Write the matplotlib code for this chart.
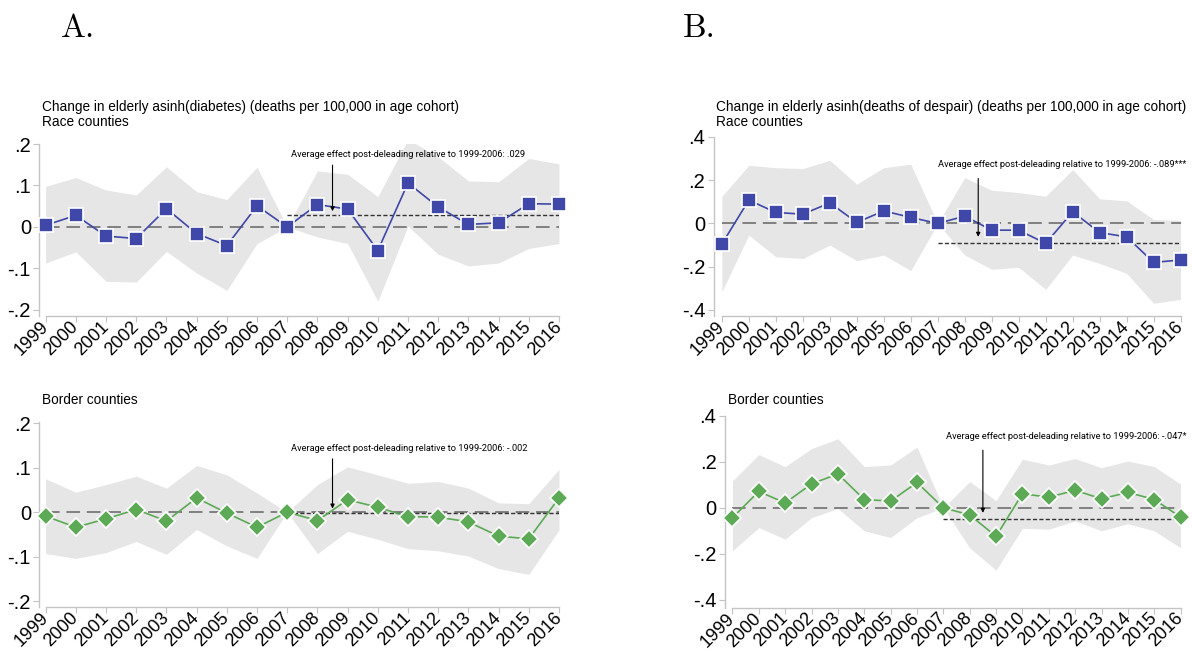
import matplotlib
matplotlib.use("Agg")
import matplotlib.pyplot as plt

years = list(range(1999, 2017))

# Panel A: diabetes
diab_race = [0.004, 0.028, -0.022, -0.028, 0.044, -0.016, -0.045, 0.051, 0.0,
             0.054, 0.043, -0.057, 0.106, 0.048, 0.006, 0.010, 0.056, 0.055]
diab_race_hi = [0.098, 0.119, 0.089, 0.077, 0.145, 0.085, 0.066, 0.144, 0.0,
                0.135, 0.127, 0.073, 0.211, 0.169, 0.111, 0.109, 0.165, 0.152]
diab_race_lo = [-0.087, -0.060, -0.131, -0.133, -0.059, -0.111, -0.153, -0.040, 0.0,
                -0.024, -0.040, -0.179, 0.002, -0.066, -0.094, -0.087, -0.052, -0.040]

diab_border = [-0.009, -0.034, -0.015, 0.006, -0.020, 0.032, -0.002, -0.034, 0.0,
               -0.019, 0.028, 0.011, -0.010, -0.011, -0.022, -0.054, -0.060, 0.032]
diab_border_hi = [0.075, 0.045, 0.062, 0.081, 0.054, 0.105, 0.084, 0.043, 0.0,
                  0.062, 0.102, 0.084, 0.065, 0.069, 0.054, 0.021, 0.019, 0.096]
diab_border_lo = [-0.093, -0.104, -0.091, -0.066, -0.095, -0.039, -0.076, -0.104, 0.0,
                  -0.093, -0.043, -0.061, -0.082, -0.087, -0.099, -0.127, -0.140, -0.040]

# Panel B: deaths of despair
desp_race = [-0.095, 0.108, 0.051, 0.043, 0.095, 0.005, 0.058, 0.028, 0.0,
             0.034, -0.031, -0.031, -0.092, 0.054, -0.042, -0.062, -0.180, -0.169]
desp_race_hi = [0.126, 0.269, 0.258, 0.254, 0.292, 0.182, 0.258, 0.274, 0.0,
                0.212, 0.154, 0.143, 0.126, 0.249, 0.114, 0.105, 0.018, 0.015]
desp_race_lo = [-0.315, -0.054, -0.154, -0.162, -0.100, -0.172, -0.146, -0.218, 0.0,
                -0.146, -0.212, -0.203, -0.305, -0.146, -0.185, -0.231, -0.369, -0.351]

desp_border = [-0.043, 0.071, 0.021, 0.104, 0.147, 0.036, 0.029, 0.110, 0.0,
               -0.031, -0.124, 0.061, 0.046, 0.076, 0.039, 0.067, 0.036, -0.040]
desp_border_hi = [0.117, 0.231, 0.179, 0.257, 0.300, 0.179, 0.186, 0.264, 0.0,
                  0.114, 0.031, 0.211, 0.186, 0.214, 0.174, 0.203, 0.179, 0.103]
desp_border_lo = [-0.186, -0.086, -0.136, -0.043, -0.003, -0.100, -0.129, -0.043, 0.0,
                  -0.174, -0.271, -0.089, -0.093, -0.057, -0.100, -0.069, -0.100, -0.174]

# Average post-period effects and their labels
avg_values = [0.029, -0.002, -0.089, -0.047]
avg_labels = [".029", "-.002", "-.089***", "-.047*"]

ticks_a = [-0.2, -0.1, 0.0, 0.1, 0.2]
ticklabels_a = ["-.2", "-.1", "0", ".1", ".2"]
ticks_b = [-0.4, -0.2, 0.0, 0.2, 0.4]
ticklabels_b = ["-.4", "-.2", "0", ".2", ".4"]

subtitle_a = "Change in elderly asinh(diabetes) (deaths per 100,000 in age cohort)"
subtitle_b = "Change in elderly asinh(deaths of despair) (deaths per 100,000 in age cohort)"

BLUE = "#3f47a8"
GREEN = "#5caa55"
BAND = "#e6e6e6"
SPINE = "#c4c4c4"
SANS = ["Liberation Sans", "DejaVu Sans"]
NARROW = ["Liberation Sans Narrow", "Roboto", "DejaVu Sans"]

fig = plt.figure(figsize=(11.93, 6.52), dpi=100)
W, H = 1193.0, 652.0


def add_axes(left, right, top, bottom):
    return fig.add_axes([left / W, 1 - bottom / H, (right - left) / W, (bottom - top) / H])


def draw_panel(ax, est, hi, lo, color, marker, ms, avg, avg_label, ticks, ticklabels,
               ylim, xleft, text_x, text_y, arrow_top, arrow_tip):
    ax.fill_between(years, lo, hi, color=BAND, lw=0, zorder=1)
    ax.plot([years[0], years[-1]], [0, 0], color="#808080", lw=1.4,
            dashes=(7, 3.5), zorder=2)
    ax.plot([2007, years[-1]], [avg, avg], color="#333333", lw=1.0,
            dashes=(3, 1.6), zorder=2)
    ax.plot(years, est, color=color, lw=1.2, marker=marker, ms=ms,
            mfc=color, mec="white", mew=1.2, zorder=3, clip_on=False)
    ax.text(text_x, text_y, "Average effect post-deleading relative to 1999-2006: " + avg_label,
            fontsize=6.7, family=NARROW, ha="left", va="baseline", zorder=4, clip_on=False)
    ax.annotate("", xy=(2008.5, arrow_tip), xytext=(2008.5, arrow_top),
                arrowprops=dict(arrowstyle="-|>", color="black", lw=0.8,
                                mutation_scale=6, shrinkA=0, shrinkB=0), zorder=4)
    ax.set_xlim(xleft, years[-1])
    ax.set_ylim(*ylim)
    ax.set_yticks(ticks)
    ax.set_yticklabels(ticklabels, family=SANS, fontsize=14.5)
    ax.set_xticks(years)
    ax.set_xticklabels([str(y) for y in years], family=SANS, fontsize=13,
                       rotation=45, ha="right", va="center", rotation_mode="anchor")
    for side in ("top", "right"):
        ax.spines[side].set_visible(False)
    for side in ("left", "bottom"):
        ax.spines[side].set_color(SPINE)
        ax.spines[side].set_linewidth(1.0)
    ax.spines["bottom"].set_bounds(years[0], years[-1])
    ax.tick_params(axis="both", direction="out", length=4, width=0.8, color=SPINE)
    ax.tick_params(axis="x", pad=2)
    ax.tick_params(axis="y", pad=2)
    ax.set_facecolor("none")


# A, race counties
ax1 = add_axes(39.3, 559.0, 144.0, 315.7)
draw_panel(ax1, diab_race, diab_race_hi, diab_race_lo, BLUE, "s", 9.4,
           avg_values[0], avg_labels[0], ticks_a, ticklabels_a,
           (-0.214, 0.2), 1998.79, 2007.12, 0.169, 0.149, 0.038)

# A, border counties
ax2 = add_axes(39.3, 559.0, 421.7, 607.0)
draw_panel(ax2, diab_border, diab_border_hi, diab_border_lo, GREEN, "D", 9.0,
           avg_values[1], avg_labels[1], ticks_a, ticklabels_a,
           (-0.2134, 0.2036), 1998.79, 2007.12, 0.138, 0.12, 0.008)

# B, race counties
ax3 = add_axes(713.5, 1180.6, 137.0, 316.0)
draw_panel(ax3, desp_race, desp_race_hi, desp_race_lo, BLUE, "s", 9.4,
           avg_values[2], avg_labels[2], ticks_b, ticklabels_b,
           (-0.428, 0.4), 1998.69, 2007.0, 0.26, 0.208, -0.062)

# B, border counties
ax4 = add_axes(724.8, 1180.6, 415.7, 607.5)
draw_panel(ax4, desp_border, desp_border_hi, desp_border_lo, GREEN, "D", 9.0,
           avg_values[3], avg_labels[3], ticks_b, ticklabels_b,
           (-0.433, 0.4), 1998.71, 2007.1, 0.30, 0.25, -0.022)

# Panel letters and subtitles
fig.text(60.7 / W, 1 - 36.7 / H, "A.", family="cmr10", fontsize=24, va="baseline")
fig.text(683.0 / W, 1 - 36.7 / H, "B.", family="cmr10", fontsize=24, va="baseline")

fig.text(42.0 / W, 1 - 110.5 / H, subtitle_a, family=SANS, fontsize=9.8, va="baseline")
fig.text(42.0 / W, 1 - 125.5 / H, "Race counties", family=SANS, fontsize=9.8, va="baseline")
fig.text(716.5 / W, 1 - 110.5 / H, subtitle_b, family=SANS, fontsize=9.8, va="baseline")
fig.text(716.5 / W, 1 - 125.5 / H, "Race counties", family=SANS, fontsize=9.8, va="baseline")
fig.text(42.0 / W, 1 - 404.0 / H, "Border counties", family=SANS, fontsize=9.8, va="baseline")
fig.text(727.8 / W, 1 - 404.0 / H, "Border counties", family=SANS, fontsize=9.8, va="baseline")

fig.savefig("out.png", dpi=100, facecolor="white")
